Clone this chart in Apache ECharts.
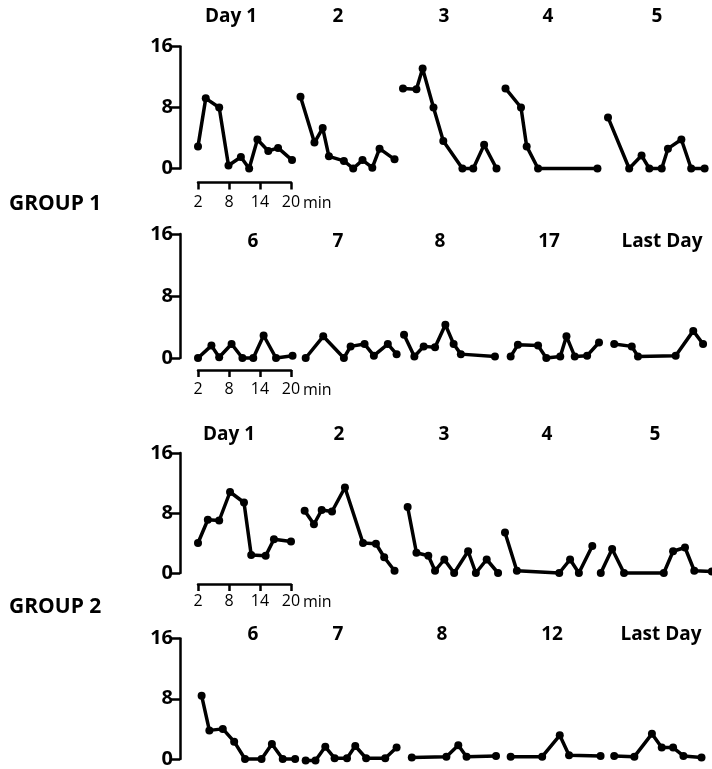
<!DOCTYPE html>
<html>
<head>
<meta charset="utf-8">
<script src="https://cdn.jsdelivr.net/npm/echarts@6/dist/echarts.min.js"></script>
<style>
  html, body { margin: 0; padding: 0; background: #fff; }
  #chart { width: 712px; height: 769px; }
</style>
</head>
<body>
<div id="chart"></div>
<script>
// panel titles
const g1Days = ['Day 1', '2', '3', '4', '5', '6', '7', '8', '17', 'Last Day']
const g2Days = ['Day 1', '2', '3', '4', '5', '6', '7', '8', '12', 'Last Day']
const groupNames = ['GROUP 1', 'GROUP 2']
const yTicks = [0, 8, 16]
const xTicks = [2, 8, 14, 20]

// group 1: minute of each sample, and count
const g1Minutes = [
  [2, 3.5, 6.1, 7.9, 10.3, 11.9, 13.5, 15.6, 17.5, 20.2],
  [2, 4.7, 6.3, 7.5, 10.4, 12.2, 14, 15.9, 17.3, 20.2],
  [2, 4.6, 5.8, 7.9, 9.8, 13.5, 15.6, 17.7, 20.1],
  [2, 5.0, 6.1, 8.3, 19.8],
  [2, 6.1, 8.5, 10, 12.4, 13.6, 16.2, 18.1, 20.7],
  [2, 4.6, 6.1, 8.5, 10.6, 12.7, 14.7, 17.1, 20.3],
  [3.0, 6.4, 10.4, 11.7, 14.4, 16.2, 18.9, 20.6],
  [2.2, 4.2, 6.0, 8.2, 10.2, 11.8, 13.2, 19.8],
  [3.0, 4.4, 8.3, 9.9, 12.6, 13.8, 15.4, 17.8, 20.1],
  [3.2, 6.6, 7.8, 15.1, 18.5, 20.4]
]
const g1Counts = [
  [2.9, 9.2, 8.0, 0.4, 1.5, 0, 3.8, 2.3, 2.7, 1.1],
  [9.4, 3.4, 5.3, 1.6, 1.0, 0, 1.1, 0.1, 2.6, 1.2],
  [10.5, 10.4, 13.1, 8.0, 3.6, 0, 0, 3.1, 0],
  [10.5, 8.0, 2.9, 0, 0],
  [6.7, 0, 1.7, 0, 0, 2.6, 3.8, 0, 0],
  [0, 1.6, 0.1, 1.8, 0, 0, 2.9, 0, 0.3],
  [0, 2.8, 0, 1.5, 1.8, 0.3, 1.8, 0.5],
  [3.0, 0.2, 1.5, 1.4, 4.3, 1.8, 0.5, 0.2],
  [0.2, 1.7, 1.6, 0, 0.2, 2.8, 0.2, 0.3, 2.0],
  [1.8, 1.5, 0.2, 0.3, 3.5, 1.8]
]

// group 2
const g2Minutes = [
  [2, 3.9, 6.1, 8.2, 10.9, 12.3, 15.1, 16.7, 20],
  [2.8, 4.6, 6.1, 8.1, 10.6, 14.1, 16.6, 18.2, 20.2],
  [2.9, 4.6, 6.9, 8.2, 10.0, 11.9, 14.6, 16.1, 18.2, 20.4],
  [1.9, 4.2, 12.4, 14.5, 16.2, 18.8],
  [0.6, 2.8, 5.1, 12.8, 14.6, 16.9, 18.7, 22.1],
  [2.7, 4.2, 6.8, 9.0, 11.1, 14.3, 16.3, 18.4, 20.8],
  [3.0, 4.9, 6.8, 8.6, 11.0, 12.6, 14.7, 18.4, 20.6],
  [3.7, 10.4, 12.7, 14.3, 20.0],
  [3.0, 9.1, 12.5, 14.3, 20.4],
  [3.2, 7.1, 10.5, 12.4, 14.6, 16.6, 20.1]
]
const g2Counts = [
  [4.0, 7.1, 7.0, 10.8, 9.4, 2.4, 2.3, 4.5, 4.2],
  [8.3, 6.5, 8.4, 8.2, 11.4, 4.0, 3.9, 2.1, 0.3],
  [8.8, 2.7, 2.3, 0.3, 1.8, 0, 2.9, 0, 1.8, 0],
  [5.4, 0.3, 0, 1.8, 0, 3.6],
  [0, 3.2, 0, 0, 2.9, 3.4, 0.3, 0.2],
  [8.4, 3.8, 4.0, 2.3, 0, 0, 2.0, 0, 0],
  [0, 0, 1.8, 0.3, 0.3, 1.9, 0.3, 0.3, 1.7],
  [0.4, 0.5, 2.0, 0.5, 0.6],
  [0.5, 0.5, 3.3, 0.7, 0.6],
  [0.6, 0.5, 3.5, 1.7, 1.7, 0.6, 0.4]
]

// layout
const font = '"Open Sans", Lato, sans-serif'
const colLefts = [198, 300.5, 403, 505.5, 608]
const pxPerMin = 93 / 18
const rowTops = [46.5, 234, 453, 638.5]
const rowHeights = [122, 124, 120, 122]
const xAxisOffsets = [14, 12, 11, 0]
const xLabelMargins = [12, 11, 9, 0]
const minLabelY = [203, 390, 602]
const titleY = [17, 242, 435, 635]
const titleX = [
  [231, 338, 444, 548, 657],
  [253, 338, 440, 549, 662],
  [229, 339, 444, 547, 655],
  [253, 338, 442, 552, 661]
]
const groupY = [204, 607]

const chart = echarts.init(document.getElementById('chart'))
const grid = [], xAxis = [], yAxis = [], series = [], graphic = []

for (let r = 0; r < 4; r++) {
  const g = r < 2 ? 0 : 1
  const days = g === 0 ? g1Days : g2Days
  const minutes = g === 0 ? g1Minutes : g2Minutes
  const counts = g === 0 ? g1Counts : g2Counts
  for (let c = 0; c < 5; c++) {
    const i = r * 5 + c
    const d = (r % 2) * 5 + c
    // first column keeps the 2..20 min scale, the others get some slack
    const xMin = c === 0 ? 2 : 0
    const xMax = c === 0 ? 20 : 22
    const showX = c === 0 && r < 3
    grid.push({
      left: colLefts[c] - (2 - xMin) * pxPerMin, top: rowTops[r],
      width: (xMax - xMin) * pxPerMin, height: rowHeights[r]
    })
    xAxis.push({
      gridIndex: i,
      type: 'value',
      min: xMin, max: xMax, interval: 6,
      show: showX,
      offset: xAxisOffsets[r],
      axisLine: { onZero: false, lineStyle: { color: '#000', width: 2.5 } },
      axisTick: { show: true, length: 7, lineStyle: { color: '#000', width: 2.5 } },
      axisLabel: {
        color: '#000', fontSize: 16, fontWeight: 500, fontFamily: font,
        margin: xLabelMargins[r], customValues: xTicks
      },
      splitLine: { show: false }
    })
    yAxis.push({
      gridIndex: i,
      type: 'value',
      min: 0, max: 16, interval: 8,
      show: c === 0,
      offset: 18,
      axisLine: { show: true, onZero: false, lineStyle: { color: '#000', width: 2.5 } },
      axisTick: { show: true, length: 10, lineStyle: { color: '#000', width: 2.5 } },
      axisLabel: {
        color: '#000', fontSize: 20, fontWeight: 'bold', fontFamily: font,
        margin: 7, customValues: yTicks
      },
      splitLine: { show: false }
    })
    series.push({
      type: 'line',
      xAxisIndex: i, yAxisIndex: i,
      data: minutes[d].map((m, k) => [m, counts[d][k]]),
      symbol: 'circle', symbolSize: 8,
      clip: false,
      lineStyle: { color: '#000', width: 3.5 },
      itemStyle: { color: '#000' },
      silent: true
    })
    graphic.push({
      type: 'text',
      x: titleX[r][c], y: titleY[r],
      style: {
        text: days[d], fill: '#000',
        font: `bold 19px ${font}`,
        align: 'center', verticalAlign: 'middle'
      }
    })
    if (showX) {
      graphic.push({
        type: 'text',
        x: 303, y: minLabelY[r],
        style: {
          text: 'min', fill: '#000',
          font: `500 16px ${font}`,
          align: 'left', verticalAlign: 'middle'
        }
      })
    }
  }
}

groupNames.forEach((name, g) => {
  graphic.push({
    type: 'text',
    x: 9, y: groupY[g],
    style: {
      text: name, fill: '#000',
      font: `bold 21px ${font}`,
      align: 'left', verticalAlign: 'middle'
    }
  })
})

chart.setOption({
  animation: false,
  backgroundColor: '#fff',
  grid, xAxis, yAxis, series, graphic
})
</script>
</body>
</html>
